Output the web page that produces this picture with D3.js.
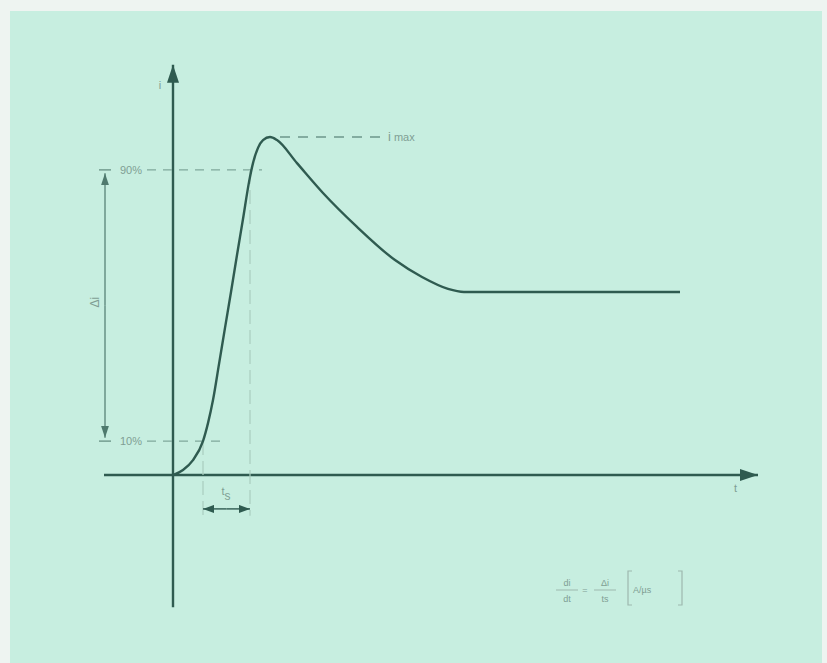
<!DOCTYPE html>
<html>
<head>
<meta charset="utf-8">
<script src="https://cdn.jsdelivr.net/npm/d3@7"></script>
<style>
	body { margin: 0; background: #eef4f1; }
	svg { display: block; }
	text { font-family: "Liberation Sans", Arial, sans-serif; fill: #7f9e94; }
</style>
</head>
<body>
<div id="chart"></div>
<script>
// current rise curve (t arbitrary units, i in % of i max)
const curveT = [0, 2, 4, 6, 7, 8, 9.2, 10.4, 11.6, 12.8, 14, 15.2, 16, 17, 18, 19.4, 20.8, 24.8, 30, 36.8, 44.4, 49.8, 55, 58.2, 101.4];
const curveI = [0, 1.5, 4.4, 10, 15.3, 22.1, 32.7, 43.4, 54, 64.9, 75.5, 86.4, 92, 96.5, 98.8, 99.7, 98.8, 92, 83.2, 73.2, 63.4, 58.4, 54.9, 54, 54];

const levels = [10, 90];
const levelLabels = ["10%", "90%"];
const levelEnds = [9.5, 17.8];
const iMax = 99.7;
const tPeak = 19.4;
const tsStart = 6;
const tsEnd = 15.4;

const axisColor = "#2f5b50";
const dashColor = "#80a89b";

const width = 827, height = 663;
const x = d3.scaleLinear().domain([0, 117]).range([173, 758]);
const y = d3.scaleLinear().domain([0, 100]).range([475, 136]);

const svg = d3.select("#chart").append("svg")
	.attr("width", width)
	.attr("height", height);

svg.append("rect")
	.attr("x", 10).attr("y", 11)
	.attr("width", 812).attr("height", height - 11)
	.attr("fill", "#c7eee0");

const defs = svg.append("defs");
function marker(id, w, h, color) {
	defs.append("marker")
		.attr("id", id)
		.attr("viewBox", `0 0 ${w} ${h}`)
		.attr("refX", w).attr("refY", h / 2)
		.attr("markerWidth", w).attr("markerHeight", h)
		.attr("markerUnits", "userSpaceOnUse")
		.attr("orient", "auto-start-reverse")
		.append("path")
		.attr("d", `M0,0L${w},${h / 2}L0,${h}Z`)
		.attr("fill", color);
}
marker("big", 18, 12, axisColor);
marker("mid", 12, 8, "#4f7a6e");
marker("small", 11, 8, axisColor);

// axes
svg.append("line")
	.attr("x1", x(0)).attr("x2", x(0))
	.attr("y1", y(-39)).attr("y2", y(121))
	.attr("stroke", axisColor).attr("stroke-width", 2.4)
	.attr("marker-end", "url(#big)");
svg.append("line")
	.attr("x1", x(-13.8)).attr("x2", x(117))
	.attr("y1", y(0)).attr("y2", y(0))
	.attr("stroke", axisColor).attr("stroke-width", 2.4)
	.attr("marker-end", "url(#big)");

svg.append("text").attr("x", x(-2.6)).attr("y", y(114)).attr("font-size", 11).attr("text-anchor", "middle").text("i");
svg.append("text").attr("x", x(112.5)).attr("y", y(-5)).attr("font-size", 11).attr("text-anchor", "middle").text("t");

// level lines 10% / 90%
const lv = svg.append("g");
levels.forEach((v, k) => {
	lv.append("line")
		.attr("x1", x(-14.8)).attr("x2", x(-12.4))
		.attr("y1", y(v)).attr("y2", y(v))
		.attr("stroke", "#5f887c").attr("stroke-width", 1.2);
	lv.append("text")
		.attr("x", x(-10.6)).attr("y", y(v) + 4)
		.attr("font-size", 11).text(levelLabels[k]);
	lv.append("line")
		.attr("x1", x(-5.2)).attr("x2", x(levelEnds[k]))
		.attr("y1", y(v)).attr("y2", y(v))
		.attr("stroke", dashColor).attr("stroke-width", 1.2)
		.attr("stroke-dasharray", "9,7");
});

// i max line
svg.append("line")
	.attr("x1", x(tPeak + 2)).attr("x2", x(42.4))
	.attr("y1", y(iMax)).attr("y2", y(iMax))
	.attr("stroke", "#6d978a").attr("stroke-width", 1.3)
	.attr("stroke-dasharray", "10,8");
const im = svg.append("text").attr("x", x(43)).attr("y", y(iMax) + 4).attr("font-size", 11);
im.append("tspan").attr("font-size", 13).text("i");
im.append("tspan").attr("dx", 3).text("max");

// delta i arrow
svg.append("line")
	.attr("x1", x(-13.6)).attr("x2", x(-13.6))
	.attr("y1", y(50)).attr("y2", y(levels[1] - 1))
	.attr("stroke", "#4f7a6e").attr("stroke-width", 1.2)
	.attr("marker-end", "url(#mid)");
svg.append("line")
	.attr("x1", x(-13.6)).attr("x2", x(-13.6))
	.attr("y1", y(50)).attr("y2", y(levels[0] + 1))
	.attr("stroke", "#4f7a6e").attr("stroke-width", 1.2)
	.attr("marker-end", "url(#mid)");
svg.append("text")
	.attr("transform", `translate(${x(-14.8)},${y(51)}) rotate(-90)`)
	.attr("font-size", 12).attr("text-anchor", "middle")
	.text("Δi");

// vertical guides for t_s
[[tsStart, levels[0]], [tsEnd, levels[1]]].forEach(([t, v]) => {
	svg.append("line")
		.attr("x1", x(t)).attr("x2", x(t))
		.attr("y1", y(v)).attr("y2", y(-12))
		.attr("stroke", "#a9cdbf").attr("stroke-width", 1.2)
		.attr("stroke-dasharray", "14,6");
});
svg.append("line")
	.attr("x1", x((tsStart + tsEnd) / 2)).attr("x2", x(tsStart))
	.attr("y1", y(-10)).attr("y2", y(-10))
	.attr("stroke", axisColor).attr("stroke-width", 1.4)
	.attr("marker-end", "url(#small)");
svg.append("line")
	.attr("x1", x((tsStart + tsEnd) / 2)).attr("x2", x(tsEnd))
	.attr("y1", y(-10)).attr("y2", y(-10))
	.attr("stroke", axisColor).attr("stroke-width", 1.4)
	.attr("marker-end", "url(#small)");
const ts = svg.append("text").attr("x", x(9.7)).attr("y", y(-6)).attr("font-size", 11);
ts.append("tspan").text("t");
ts.append("tspan").attr("dy", 5).attr("font-size", 12).text("s");

// curve
const pts = curveT.map((t, k) => [t, curveI[k]]);
svg.append("path")
	.datum(pts)
	.attr("fill", "none")
	.attr("stroke", axisColor)
	.attr("stroke-width", 2.4)
	.attr("d", d3.line().x(d => x(d[0])).y(d => y(d[1])).curve(d3.curveMonotoneX));

// formula
const f = svg.append("g").attr("font-size", 9);
function frac(cx, num, den, w) {
	f.append("text").attr("x", cx).attr("y", 586).attr("text-anchor", "middle").text(num);
	f.append("line").attr("x1", cx - w / 2).attr("x2", cx + w / 2).attr("y1", 590).attr("y2", 590)
		.attr("stroke", "#9db8ae").attr("stroke-width", 1);
	f.append("text").attr("x", cx).attr("y", 602).attr("text-anchor", "middle").text(den);
}
frac(567, "di", "dt", 22);
f.append("text").attr("x", 585).attr("y", 593).attr("text-anchor", "middle").text("=");
frac(605, "Δi", "ts", 22);
f.append("path").attr("d", "M632,571H628V605H632").attr("fill", "none").attr("stroke", "#9db8ae").attr("stroke-width", 1.2);
f.append("text").attr("x", 633).attr("y", 593).text("A/µs");
f.append("path").attr("d", "M678,571H682V605H678").attr("fill", "none").attr("stroke", "#9db8ae").attr("stroke-width", 1.2);
</script>
</body>
</html>
